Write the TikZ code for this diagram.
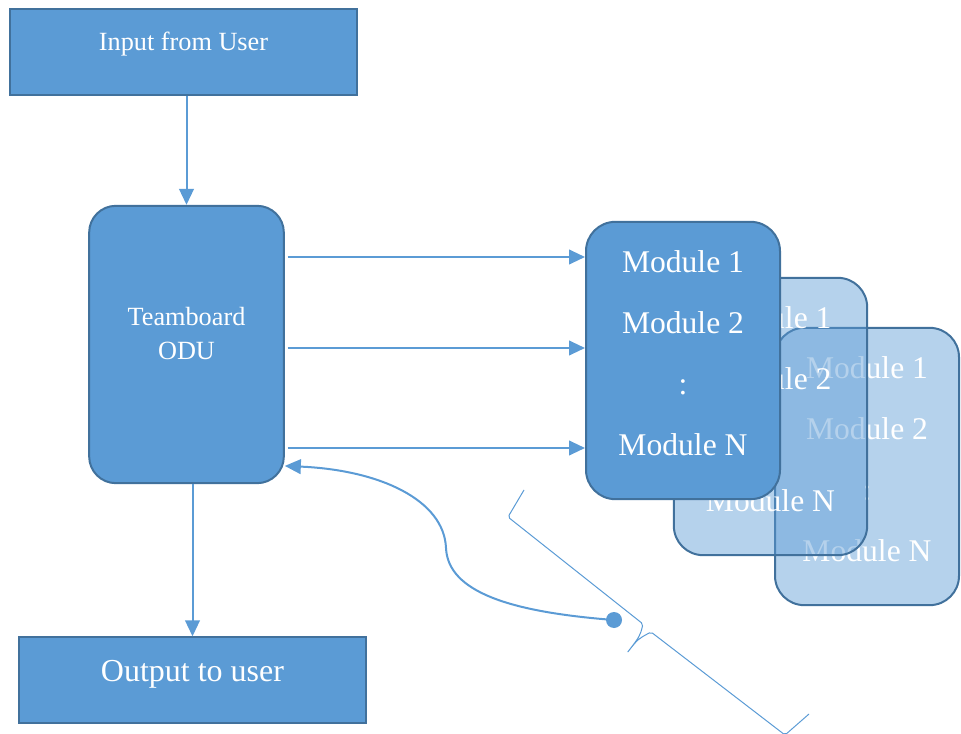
\documentclass[tikz,border=0pt]{standalone}
\usepackage{fontspec}
\setmainfont{Liberation Serif}
\usetikzlibrary{arrows.meta}
\definecolor{boxblue}{HTML}{5B9BD5}
\definecolor{boxedge}{HTML}{41719C}

\begin{document}
\begin{tikzpicture}[x=0.75pt,y=-0.75pt,>={Triangle[length=12pt,width=11pt]}]
    \tikzstyle{block}=[draw=boxedge,fill=boxblue,line width=1.5pt,text=white,inner sep=0pt,align=center]
    \tikzstyle{io block}=[block,minimum width=260pt,minimum height=64pt]
    \tikzstyle{odu block}=[block,rounded corners=20pt,minimum width=146pt,minimum height=208pt,
        font=\fontsize{19.7pt}{25.5pt}\selectfont,text height=23pt,text depth=0pt]
    \tikzstyle{module block}=[block,rounded corners=22pt,minimum width=145.5pt,minimum height=208pt,
        font=\fontsize{23.7pt}{45.75pt}\selectfont,text height=143pt,text depth=0pt]
    \tikzstyle{ghost block}=[module block,fill opacity=0.45,draw opacity=1,text opacity=1]
    \tikzstyle{flow}=[->,draw=boxblue,line width=1.5pt]
    \tikzstyle{bracket}=[draw=boxblue,line width=0.75pt,rounded corners=1.5pt]

    \useasboundingbox (0,0) rectangle (961,734);

    % Draw the input and output boxes.
    \node[io block,font=\fontsize{19.7pt}{24pt}\selectfont,text height=0pt,text depth=1.7pt] (input) at (183.5,52) {Input from User};
    \node[io block,font=\fontsize{24pt}{29pt}\selectfont,text height=2.4pt,text depth=0pt] (output) at (192.5,680) {Output to user};

    % Draw the ODU box.
    \node[odu block] (odu) at (186.5,344.5) {Teamboard\\ODU};

    % Draw the module stacks, back to front.
    \foreach \name/\x/\y/\w in {back/867/466.5/138, middle/770.5/416.5/145}
        \node[ghost block,minimum width=\w pt] (\name) at (\x,\y) {Module 1\\Module 2\\:\\Module N};
    \node[module block] (modules) at (683,360.5) {Module 1\\Module 2\\:\\Module N};

    % Connect the boxes.
    \draw[flow] (odu.north |- input.south) -- (odu.north);
    \draw[flow] (output.north |- odu.south) -- (output.north);
    \foreach \y in {257,348,448}
        \draw[flow,shorten <=2pt] (odu.east |- 0,\y) -- (modules.west |- 0,\y);

    % Feedback from the brace.
    \node[circle,fill=boxblue,minimum size=12pt,inner sep=0pt] (knob) at (614,620) {};
    \draw[flow] (knob.center) .. controls (510,612) and (448,592) .. (446,548)
        .. controls (444,500) and (380,470) .. (odu.-51);
    \draw[bracket] (524,490) -- (508,517) -- (643,624) .. controls (640,636) .. (627,653)
        .. controls (638,639) .. (651,632) -- (785,735) -- (809,714);
\end{tikzpicture}
\end{document}
